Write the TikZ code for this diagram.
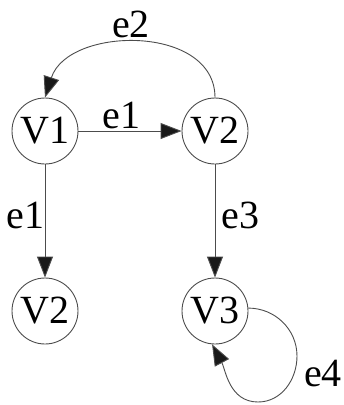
\documentclass[tikz,border=0pt]{standalone}
\usepackage{fontspec}
\setmainfont{Liberation Serif}
\usetikzlibrary{arrows.meta}
\begin{document}
\begin{tikzpicture}[x=1pt,y=-1pt,
  vertex/.style={circle,draw=black!70,line width=0.9pt,minimum size=66pt,inner sep=0pt,font=\fontsize{40}{40}\selectfont},
  edge/.style={draw=black!70,line width=0.9pt,-{Triangle[length=21pt,width=16pt,fill=black!90]}},
  lab/.style={font=\fontsize{40}{40}\selectfont,inner sep=0pt}]
\useasboundingbox (0,0) rectangle (344,405);
\node[vertex] (v1) at (45,131) {V1};
\node[vertex] (v2) at (215,131) {V2};
\node[vertex] (v2b) at (45,311) {V2};
\node[vertex] (v3) at (215,311) {V3};
% edges
\draw[edge] (v1) -- (v2) node[lab,pos=0.42,above=2pt] (le1) {e1};
\draw[edge] (v1) -- (v2b) node[lab,pos=0.45,left=0pt] (le1b) {e1};
\draw[edge] (v2) -- (v3) node[lab,pos=0.45,right=6pt] (le3) {e3};
\draw[edge] (v2.north) .. controls (215,24) and (68,26) .. (v1.north);
\node[lab] (le2) at (131,24) {e2};
% self loop on V3
\coordinate (r1) at (297,356);
\coordinate (r2) at (258,402);
\draw[edge] (v3.5) to[out=0,in=90] (r1) to[out=-90,in=0] (r2) to[out=180,in=-62] (v3.-95);
\node[lab] (le4) at (323,374) {e4};
\end{tikzpicture}
\end{document}
